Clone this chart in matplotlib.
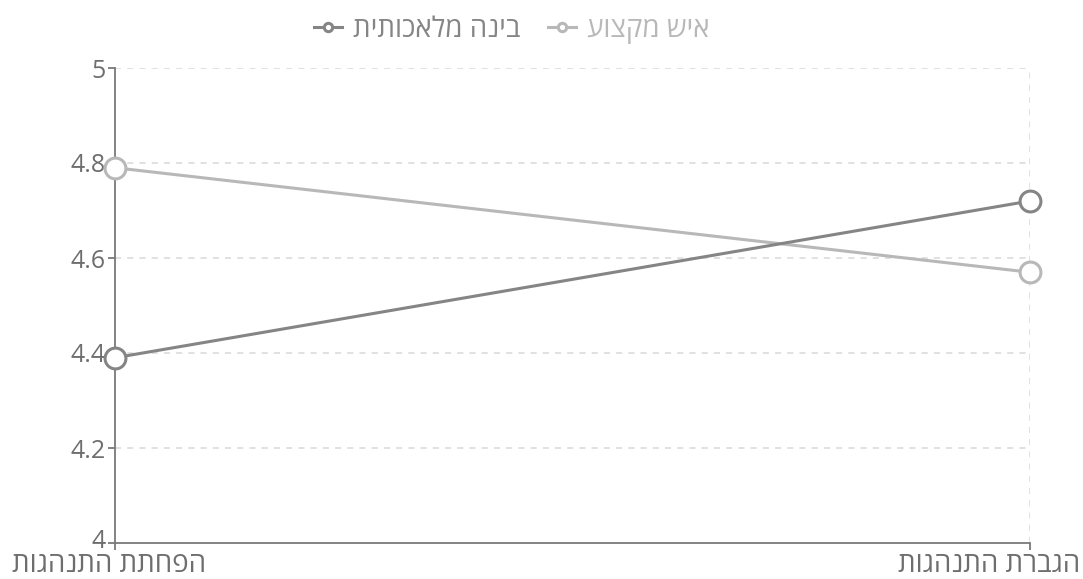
import matplotlib
matplotlib.use('Agg')
import matplotlib.pyplot as plt
import matplotlib.transforms as mtrans

# data
categories = ['הפחתת התנהגות', 'הגברת התנהגות']
series_names = ['בינה מלאכותית', 'איש מקצוע']
ai_vals = [4.39, 4.72]
pro_vals = [4.79, 4.57]
yticks = [4, 4.2, 4.4, 4.6, 4.8, 5]
colors = ['#858585', '#b8b8b8']

def rtl(s):
    # matplotlib has no bidi support, so flip the Hebrew strings for display
    return s[::-1]

plt.rcParams['font.family'] = ['Open Sans', 'DejaVu Sans']
txtc = '#6e6e6e'

fig = plt.figure(figsize=(10.83, 5.79), dpi=100)
ax = fig.add_axes([115/1083, 1 - 543/579, (1030-115)/1083, (543-68)/579])

x = range(len(categories))
for vals, name, c, z in zip([ai_vals, pro_vals], series_names, colors, [4, 3]):
    ax.plot(x, vals, color=c, lw=2.2, marker='o', ms=15, mfc='white', mec=c, mew=2.2,
            label=rtl(name), zorder=z, clip_on=False)

ax.set_xlim(0, 1)
ax.set_ylim(4, 5)
ax.set_yticks(yticks)
ax.set_yticklabels(['%g' % v for v in yticks])
ax.set_xticks(list(x))
ax.set_xticklabels([rtl(c) for c in categories])

for s in ['top', 'right']:
    ax.spines[s].set_visible(False)
for s in ['left', 'bottom']:
    ax.spines[s].set_color('#7a7a7a')
    ax.spines[s].set_linewidth(1.3)

ax.tick_params(axis='y', length=5, width=1.3, color='#7a7a7a', labelcolor=txtc, labelsize=18, pad=2)
ax.tick_params(axis='x', length=5, width=1.3, color='#7a7a7a', labelcolor=txtc, labelsize=20, pad=1)

# horizontal and vertical dashed grid
for v in yticks[1:]:
    ax.axhline(v, color='#d8d8d8', lw=1.1, ls=(0, (4, 4)), zorder=0)
ax.axvline(1, color='#d8d8d8', lw=1.1, ls=(0, (4, 4)), zorder=0)

# keep the end labels inside the canvas
labs = ax.get_xticklabels()
labs[0].set_transform(labs[0].get_transform() + mtrans.ScaledTranslation(-6/100, 0, fig.dpi_scale_trans))
labs[1].set_horizontalalignment('right')
labs[1].set_transform(labs[1].get_transform() + mtrans.ScaledTranslation(50/100, 0, fig.dpi_scale_trans))

# lift the bottom y label a touch so it clears the category label
ylab0 = ax.get_yticklabels()[0]
ylab0.set_transform(ylab0.get_transform() + mtrans.ScaledTranslation(0, 4/100, fig.dpi_scale_trans))

leg = fig.legend(loc='center', bbox_to_anchor=(512/1083, 1 - 30/579), ncol=2, frameon=False,
                 fontsize=20, handlelength=1.0, handletextpad=0.4, columnspacing=1.0,
                 markerscale=0.4, labelcolor=colors, borderpad=0)

fig.savefig('out.png', dpi=100)
